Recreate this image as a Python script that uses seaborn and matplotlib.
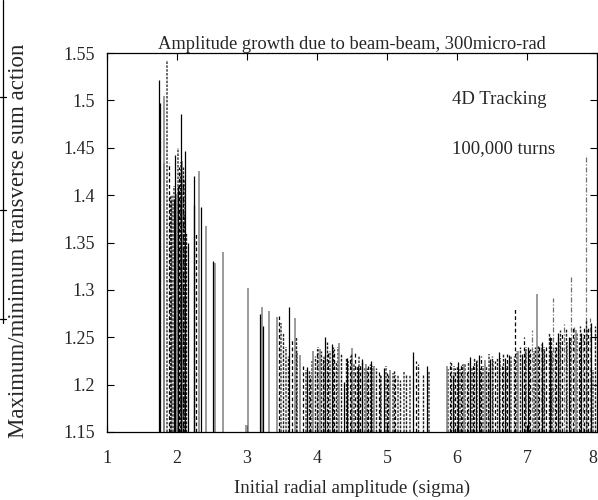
import matplotlib
matplotlib.use("Agg")
import matplotlib.pyplot as plt
import seaborn as sns
from matplotlib.lines import Line2D

# 各种线型的脉冲数据 (x: 初始径向振幅 sigma, y: 最大/最小作用量比)
x_solid_k = [1.74, 1.75, 1.95, 1.975, 2.02, 2.06, 2.11, 2.16, 2.24, 2.25,
             2.35, 2.52, 3.19, 3.23, 3.60, 3.86, 4.12, 4.21, 4.39, 4.43,
             4.58, 4.65, 4.77, 4.96, 5.38, 5.57, 5.94, 6.02, 6.19, 6.27,
             6.31, 6.48, 6.60, 6.69, 6.75, 6.93, 7.01, 7.22, 7.33, 7.45,
             7.60, 7.78, 7.92]
y_solid_k = [1.522, 1.497, 1.396, 1.442, 1.41, 1.486, 1.447, 1.35, 1.42, 1.39,
             1.387, 1.33, 1.275, 1.262, 1.282, 1.219, 1.25, 1.243, 1.203, 1.228,
             1.22, 1.227, 1.225, 1.218, 1.234, 1.22, 1.21, 1.224, 1.229, 1.225,
             1.231, 1.227, 1.234, 1.228, 1.231, 1.232, 1.24, 1.245, 1.25, 1.255,
             1.25, 1.255, 1.265]

x_solid_g = [1.81, 1.82, 2.00, 2.07, 2.32, 2.41, 2.55, 2.66, 2.98, 3.02,
             3.21, 3.31, 3.43, 3.68, 3.76, 3.95, 4.04, 4.32, 4.50, 4.70,
             4.82, 5.05, 5.86, 6.10, 6.40, 6.88, 7.14, 7.70]
y_solid_g = [1.505, 1.434, 1.401, 1.436, 1.425, 1.367, 1.328, 1.34, 1.157, 1.302,
             1.282, 1.278, 1.271, 1.27, 1.231, 1.235, 1.238, 1.244, 1.239, 1.222,
             1.22, 1.215, 1.22, 1.222, 1.226, 1.235, 1.296, 1.258]

x_dash_k = [1.88, 2.03, 2.09, 2.27, 3.46, 3.64, 3.80, 3.90, 4.00, 4.08,
            4.16, 4.25, 4.47, 4.55, 4.62, 4.73, 4.88, 5.00, 5.12, 5.42,
            5.90, 5.98, 6.06, 6.14, 6.23, 6.35, 6.44, 6.55, 6.64, 6.72,
            6.83, 6.96, 7.05, 7.18, 7.28, 7.42, 7.50, 7.66, 7.74, 7.82,
            7.88]
y_dash_k = [1.434, 1.43, 1.417, 1.359, 1.272, 1.247, 1.22, 1.21, 1.238, 1.228,
            1.234, 1.238, 1.23, 1.235, 1.222, 1.22, 1.215, 1.212, 1.21, 1.225,
            1.224, 1.218, 1.222, 1.215, 1.222, 1.23, 1.215, 1.225, 1.22, 1.232,
            1.281, 1.25, 1.238, 1.24, 1.24, 1.245, 1.255, 1.26, 1.245, 1.26,
            1.262]

x_dot_k = [1.90, 1.92, 2.04, 2.08, 2.10, 2.13,
           3.52, 3.58, 3.70, 3.88, 3.97, 4.06, 4.14, 4.23, 4.27, 4.35,
           4.41, 4.49, 4.57, 4.64, 4.71, 4.76, 4.85, 4.90, 5.02, 5.10,
           5.19, 5.28, 5.45, 5.52, 5.92, 6.00, 6.08, 6.16, 6.25, 6.33,
           6.42, 6.50, 6.58, 6.66, 6.74, 6.81, 6.90, 6.98, 7.03, 7.12,
           7.16, 7.24, 7.31, 7.35, 7.40, 7.47, 7.56, 7.62, 7.76, 7.84,
           7.97]
y_dot_k = [1.40, 1.395, 1.42, 1.43, 1.38, 1.36,
           1.255, 1.23, 1.25, 1.215, 1.23, 1.235, 1.245, 1.24, 1.225, 1.232,
           1.228, 1.232, 1.22, 1.225, 1.218, 1.222, 1.218, 1.21, 1.21, 1.215,
           1.205, 1.21, 1.222, 1.21, 1.225, 1.22, 1.222, 1.225, 1.228, 1.218,
           1.22, 1.23, 1.228, 1.232, 1.225, 1.23, 1.24, 1.235, 1.238, 1.24,
           1.242, 1.238, 1.255, 1.25, 1.24, 1.258, 1.26, 1.25, 1.262, 1.268,
           1.262]

x_dot_g = [1.853, 1.93, 1.96, 2.01, 2.05, 2.12, 3.48, 3.56, 3.72, 3.84,
           3.93, 4.02, 4.10, 4.19, 4.30, 4.45, 4.53, 4.60, 4.68, 4.80,
           4.92, 4.99, 5.08, 5.16, 5.25, 5.33, 5.60, 5.88, 5.96, 6.04,
           6.12, 6.21, 6.29, 6.38, 6.46, 6.52, 6.62, 6.70, 6.78, 6.86,
           6.99, 7.10, 7.25, 7.36, 7.48, 7.58, 7.72, 7.86, 7.95]
y_dot_g = [1.543, 1.40, 1.41, 1.45, 1.435, 1.417, 1.265, 1.24, 1.235, 1.215,
           1.225, 1.24, 1.23, 1.236, 1.24, 1.225, 1.222, 1.23, 1.218, 1.22,
           1.21, 1.22, 1.212, 1.21, 1.213, 1.21, 1.214, 1.216, 1.22, 1.217,
           1.223, 1.218, 1.226, 1.22, 1.232, 1.225, 1.228, 1.22, 1.23, 1.236,
           1.24, 1.235, 1.24, 1.236, 1.245, 1.245, 1.255, 1.258, 1.215]

x_dashdot_g = [7.08, 7.20, 7.38, 7.45, 7.53, 7.63, 7.68, 7.80, 7.85, 7.90]
y_dashdot_g = [1.258, 1.245, 1.291, 1.25, 1.265, 1.314, 1.262, 1.255, 1.442, 1.27]

x_ticks = [1, 2, 3, 4, 5, 6, 7, 8]
y_ticks = [1.15, 1.2, 1.25, 1.3, 1.35, 1.4, 1.45, 1.5, 1.55]
y_ticklabels = ["1.15", "1.2", "1.25", "1.3", "1.35", "1.4", "1.45", "1.5", "1.55"]

sns.set_theme(style="ticks")
plt.rcParams["font.family"] = ["Liberation Serif", "DejaVu Serif"]
plt.rcParams["xtick.direction"] = "in"
plt.rcParams["ytick.direction"] = "in"

fig = plt.figure(figsize=(5.98, 5.0), dpi=100)
ax = fig.add_axes([0.179, 0.136, 0.819, 0.758])

base = 1.15
ax.vlines(x_dot_g, base, y_dot_g, colors="#505050", linewidth=1.2, linestyles=(0, (1.5, 0.8)))
ax.vlines(x_dashdot_g, base, y_dashdot_g, colors="#707070", linewidth=0.9, linestyles=(0, (4, 1.5, 1, 1.5)))
ax.vlines(x_solid_g, base, y_solid_g, colors="#808080", linewidth=1.1, linestyles="solid")
ax.vlines(x_dot_k, base, y_dot_k, colors="#202020", linewidth=1.0, linestyles=(0, (2, 1)))
ax.vlines(x_dash_k, base, y_dash_k, colors="black", linewidth=0.9, linestyles=(0, (3, 2)))
ax.vlines(x_solid_k, base, y_solid_k, colors="black", linewidth=0.9, linestyles="solid")

ax.set_xlim(1, 8)
ax.set_ylim(1.15, 1.55)
ax.set_xticks(x_ticks)
ax.set_yticks(y_ticks)
ax.set_yticklabels(y_ticklabels)
ax.tick_params(axis="both", which="major", length=5, width=0.8, color="black",
               labelsize=13, top=True, right=True)
ax.tick_params(axis="y", pad=9)
ax.tick_params(axis="x", pad=13)
ax.get_xticklabels()[-1].set_horizontalalignment("right")
for sp in ax.spines.values():
    sp.set_color("black")
    sp.set_linewidth(0.9)

ax.set_title("Amplitude growth due to beam-beam, 300micro-rad", fontsize=13.3, pad=3)
fig.text(352 / 598, 0.024, "Initial radial amplitude (sigma)", ha="center", va="center", fontsize=13.7)
fig.text(19 / 598, 0.518, "Maximum/minimum transverse sum action", ha="center", va="center",
         rotation=90, fontsize=16.5)

ax.text(0.704, 0.876, "4D Tracking", transform=ax.transAxes, ha="left", va="center", fontsize=13.5)
ax.text(0.704, 0.749, "100,000 turns", transform=ax.transAxes, ha="left", va="center", fontsize=13.5)

# 左侧边缘的扫描残留线
fig.add_artist(Line2D([0.005, 0.005], [1.0, 0.355], color="black", linewidth=0.9))
for yy in [0.806, 0.58, 0.362]:
    fig.add_artist(Line2D([0.0, 0.01], [yy, yy], color="black", linewidth=0.9))

fig.savefig("out.png", dpi=100)
